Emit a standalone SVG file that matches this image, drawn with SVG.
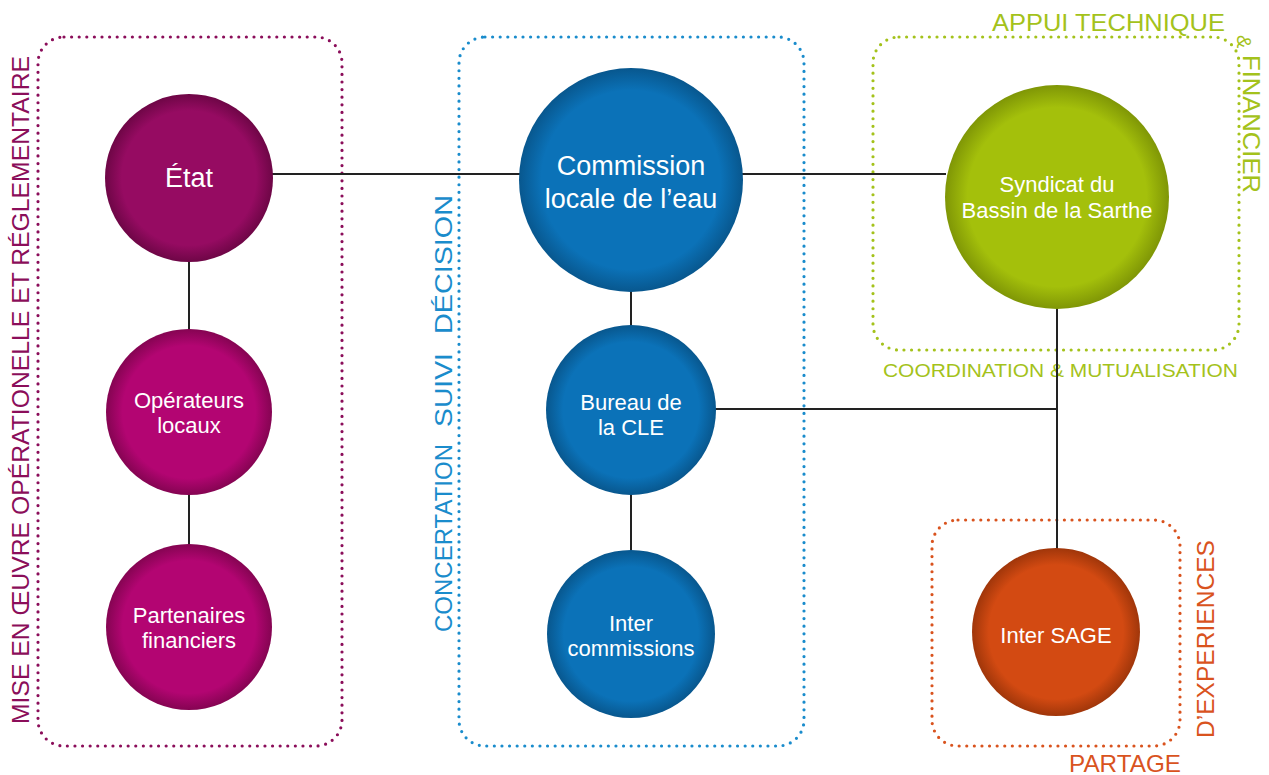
<svg xmlns="http://www.w3.org/2000/svg" width="1269" height="775" viewBox="0 0 1269 775">
<style>
.box{fill:none;stroke-width:3.2;stroke-linecap:round;stroke-dasharray:0 7.6}
.lbl{font-family:"Liberation Sans",Arial,sans-serif;fill:#fff;text-anchor:middle}
.cap{font-family:"Liberation Sans",Arial,sans-serif}
.blue{fill:#1a8ccc;font-size:23px}
.conn{stroke:#222;stroke-width:2;fill:none}
</style>
<defs>
<radialGradient id="gEtat"><stop offset="0.8" stop-color="#960b62"/><stop offset="1" stop-color="#6e0646"/></radialGradient>
<radialGradient id="gMag"><stop offset="0.8" stop-color="#b30572"/><stop offset="1" stop-color="#850452"/></radialGradient>
<radialGradient id="gBlue"><stop offset="0.8" stop-color="#0b72b8"/><stop offset="1" stop-color="#08578e"/></radialGradient>
<radialGradient id="gGreen"><stop offset="0.8" stop-color="#a4c00b"/><stop offset="1" stop-color="#7f9606"/></radialGradient>
<radialGradient id="gOrange"><stop offset="0.8" stop-color="#d34a12"/><stop offset="1" stop-color="#a0360a"/></radialGradient>
</defs>
<rect width="1269" height="775" fill="#fff"/>

<g id="frames">
<rect class="box" x="38" y="37" width="304" height="709" rx="26" stroke="#8b0e5a"/>
<rect class="box" x="459" y="37" width="345" height="709" rx="26" stroke="#1a8ccc"/>
<rect class="box" x="873" y="37" width="366" height="313" rx="26" stroke="#a4c21b"/>
<rect class="box" x="932" y="520" width="248" height="226" rx="26" stroke="#d9531e"/>
</g>

<g id="captions">
<text class="cap" transform="translate(29,390) rotate(-90)" text-anchor="middle" font-size="23" fill="#8b0e5a" textLength="668" lengthAdjust="spacingAndGlyphs">MISE EN ŒUVRE OPÉRATIONELLE ET RÉGLEMENTAIRE</text>
<text class="cap blue" transform="translate(452,632) rotate(-90)" textLength="188" lengthAdjust="spacingAndGlyphs">CONCERTATION</text>
<text class="cap blue" transform="translate(452,427) rotate(-90)" textLength="74" lengthAdjust="spacingAndGlyphs">SUIVI</text>
<text class="cap blue" transform="translate(452,334) rotate(-90)" textLength="139" lengthAdjust="spacingAndGlyphs">DÉCISION</text>
<text class="cap" x="992" y="31" font-size="24" fill="#a4c21b" textLength="233" lengthAdjust="spacingAndGlyphs">APPUI TECHNIQUE</text>
<text class="cap" transform="translate(1237,35) rotate(90)" font-size="20" fill="#a4c21b">&amp;</text>
<text class="cap" transform="translate(1243,55) rotate(90)" font-size="24" fill="#a4c21b" textLength="138" lengthAdjust="spacingAndGlyphs">FINANCIER</text>
<text class="cap" x="883" y="377" font-size="19" fill="#a4c21b" textLength="355" lengthAdjust="spacingAndGlyphs">COORDINATION &amp; MUTUALISATION</text>
<text class="cap" transform="translate(1214,738) rotate(-90)" font-size="24" fill="#d9531e" textLength="198" lengthAdjust="spacingAndGlyphs">D’EXPERIENCES</text>
<text class="cap" x="1069" y="772" font-size="24" fill="#d9531e" textLength="112" lengthAdjust="spacingAndGlyphs">PARTAGE</text>
</g>

<g id="connectors">
<line class="conn" x1="272" y1="174" x2="520" y2="174"/>
<line class="conn" x1="742" y1="174" x2="946" y2="174"/>
<line class="conn" x1="189" y1="261" x2="189" y2="330"/>
<line class="conn" x1="189" y1="494" x2="189" y2="545"/>
<line class="conn" x1="631" y1="290" x2="631" y2="327"/>
<line class="conn" x1="631" y1="494" x2="631" y2="551"/>
<line class="conn" x1="715" y1="409" x2="1057" y2="409"/>
<line class="conn" x1="1057" y1="308" x2="1057" y2="549"/>
</g>

<g id="etat">
<circle cx="189" cy="178" r="84" fill="url(#gEtat)"/>
<text class="lbl" x="189" y="187" font-size="27">État</text>
</g>
<g id="operateurs">
<circle cx="189" cy="412" r="83" fill="url(#gMag)"/>
<text class="lbl" x="189" y="408" font-size="22">Opérateurs</text>
<text class="lbl" x="189" y="433" font-size="22">locaux</text>
</g>
<g id="partenaires">
<circle cx="189" cy="627" r="83" fill="url(#gMag)"/>
<text class="lbl" x="189" y="623" font-size="22">Partenaires</text>
<text class="lbl" x="189" y="648" font-size="22">financiers</text>
</g>
<g id="cle">
<circle cx="631" cy="180" r="112" fill="url(#gBlue)"/>
<text class="lbl" x="631" y="175" font-size="27">Commission</text>
<text class="lbl" x="631" y="208" font-size="27">locale de l’eau</text>
</g>
<g id="bureau">
<circle cx="631" cy="410" r="85" fill="url(#gBlue)"/>
<text class="lbl" x="631" y="410" font-size="22">Bureau de</text>
<text class="lbl" x="631" y="435" font-size="22">la CLE</text>
</g>
<g id="intercommissions">
<circle cx="631" cy="634" r="84" fill="url(#gBlue)"/>
<text class="lbl" x="631" y="631" font-size="22">Inter</text>
<text class="lbl" x="631" y="656" font-size="22">commissions</text>
</g>
<g id="syndicat">
<circle cx="1057" cy="197" r="112" fill="url(#gGreen)"/>
<text class="lbl" x="1057" y="192" font-size="22">Syndicat du</text>
<text class="lbl" x="1057" y="218" font-size="22">Bassin de la Sarthe</text>
</g>
<g id="intersage">
<circle cx="1056" cy="632" r="84" fill="url(#gOrange)"/>
<text class="lbl" x="1056" y="643" font-size="22">Inter SAGE</text>
</g>
</svg>
